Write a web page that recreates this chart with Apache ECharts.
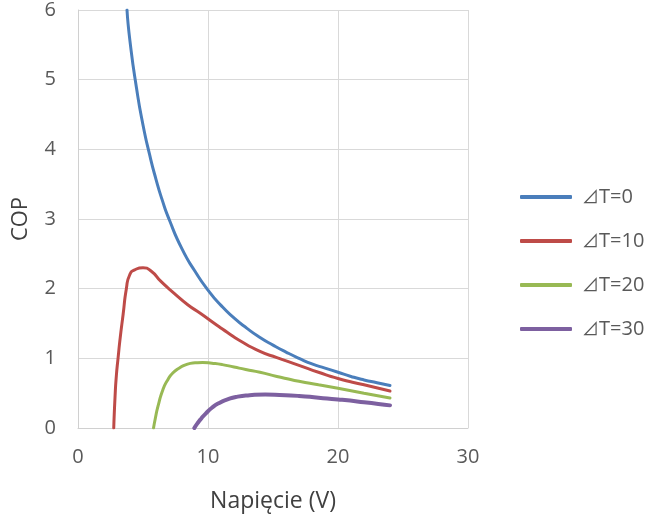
<!DOCTYPE html>
<html>
<head>
<meta charset="utf-8">
<script src="https://cdn.jsdelivr.net/npm/echarts@6/dist/echarts.min.js"></script>
<style>html,body{margin:0;padding:0;background:#fff}#c{width:667px;height:519px}</style>
</head>
<body>
<div id="c"></div>
<script>
const seriesNames = ['⊿T=0', '⊿T=10', '⊿T=20', '⊿T=30'];
const xTicks = [0, 10, 20, 30];
const yTicks = [0, 1, 2, 3, 4, 5, 6];

const dT0 = [[3.77,6],[4,5.55],[4.5,4.88],[5,4.35],[5.5,3.93],[6,3.57],[6.5,3.26],[7,3.0],[8,2.57],[9,2.25],[10,1.98],[11,1.76],[12,1.58],[13,1.43],[14,1.3],[15,1.19],[16,1.09],[17,1.0],[18,0.92],[19,0.86],[20,0.8],[21,0.74],[22,0.69],[23,0.65],[24,0.61]];
const dT10 = [[2.75,0],[2.85,0.45],[2.95,0.75],[3.08,1.0],[3.25,1.3],[3.47,1.63],[3.72,2.0],[3.98,2.2],[4.36,2.27],[5.0,2.3],[5.64,2.25],[6.4,2.1],[7.42,1.93],[8.44,1.77],[9.46,1.64],[10.5,1.5],[11.5,1.37],[12.4,1.26],[14,1.1],[15.3,1.01],[17,0.9],[18.5,0.8],[20,0.71],[22,0.62],[24,0.53]];
const dT20 = [[5.81,0],[5.95,0.14],[6.15,0.31],[6.53,0.55],[6.9,0.69],[7.29,0.79],[7.8,0.86],[8.32,0.91],[9,0.935],[9.59,0.94],[10.3,0.93],[11.1,0.91],[12,0.875],[12.9,0.84],[14,0.8],[15.3,0.74],[17,0.67],[18.5,0.62],[20,0.57],[22,0.5],[24,0.43]];
const dT30 = [[8.95,0],[9.2,0.07],[9.5,0.14],[9.84,0.21],[10.3,0.29],[10.87,0.36],[11.5,0.41],[12.14,0.445],[13.2,0.47],[14.4,0.48],[15.5,0.475],[17,0.46],[18.5,0.435],[20,0.41],[22,0.37],[24,0.325]];

const colors = ['#4A7EBB', '#BE4B48', '#98B954', '#7D60A0'];
const widths = [3, 3, 3, 4];
const datasets = [dT0, dT10, dT20, dT30];
const font = '"Open Sans", "Noto Sans", sans-serif';

const chart = echarts.init(document.getElementById('c'));
chart.setOption({
  animation: false,
  backgroundColor: '#ffffff',
  grid: { left: 78, right: 199, top: 10, bottom: 91, containLabel: false, outerBoundsMode: 'none' },
  xAxis: {
    type: 'value', min: xTicks[0], max: xTicks[xTicks.length - 1], interval: 10,
    name: 'Napięcie (V)', nameLocation: 'middle', nameGap: 62,
    nameTextStyle: { color: '#404040', fontSize: 23, fontFamily: font },
    axisLine: { show: true, lineStyle: { color: '#d0d0d0', width: 1 } },
    axisTick: { show: false },
    axisLabel: { color: '#595959', fontSize: 20, fontFamily: font, margin: 19 },
    splitLine: { show: true, lineStyle: { color: '#d9d9d9', width: 1 } }
  },
  yAxis: {
    type: 'value', min: yTicks[0], max: yTicks[yTicks.length - 1], interval: 1,
    name: 'COP', nameLocation: 'middle', nameGap: 46, nameRotate: 90,
    nameTextStyle: { color: '#404040', fontSize: 22, fontFamily: font },
    axisLine: { show: true, lineStyle: { color: '#d0d0d0', width: 1 } },
    axisTick: { show: false },
    axisLabel: { color: '#595959', fontSize: 20, fontFamily: font, margin: 22 },
    splitLine: { show: true, lineStyle: { color: '#d9d9d9', width: 1 } }
  },
  legend: {
    orient: 'vertical', left: 520, top: 186, padding: 0,
    icon: 'roundRect',
    itemWidth: 52, itemHeight: 4, itemGap: 22,
    formatter: function (name) { return '{t|' + name.charAt(0) + '}' + name.slice(1); },
    textStyle: {
      color: '#595959', fontSize: 20, fontFamily: font, lineHeight: 22, padding: [0, 0, 0, 5],
      rich: { t: { fontFamily: '"Noto Sans CJK JP", "DejaVu Sans", sans-serif', fontSize: 17, color: '#595959', lineHeight: 22 } }
    },
    data: seriesNames
  },
  series: datasets.map((d, i) => ({
    name: seriesNames[i], type: 'line', data: d,
    smooth: 0.6,
    symbol: 'none', showSymbol: false,
    lineStyle: { color: colors[i], width: widths[i], cap: 'round' },
    itemStyle: { color: colors[i] },
    clip: true
  }))
});
</script>
</body>
</html>
